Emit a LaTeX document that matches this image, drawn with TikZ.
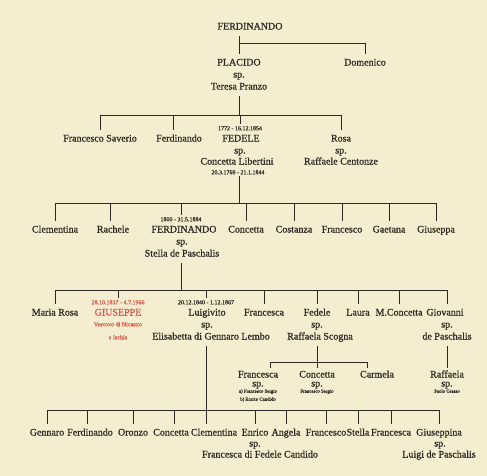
\documentclass[tikz,border=0pt]{standalone}
\usepackage{fontspec}
\setmainfont{Liberation Serif}[FakeBold=0.8]
\definecolor{bg}{RGB}{244,237,207}
\definecolor{ink}{RGB}{45,40,35}
\definecolor{redink}{RGB}{214,88,76}
\tikzset{
  person/.style={inner xsep=0pt, inner ysep=4.5pt, text height=7pt, text depth=2pt, text=ink, font=\fontsize{10}{11}\selectfont},
  small/.style={inner xsep=0pt, inner ysep=1.5pt, text height=4.5pt, text depth=0pt, text=ink, font=\fontsize{6}{7}\selectfont},
  tiny/.style={inner xsep=0pt, inner ysep=1pt, text height=3.5pt, text depth=0pt, text=ink, font=\fontsize{4.8}{5.5}\selectfont},
  red/.style={text=redink},
  link/.style={draw=ink, line width=0.9pt}
}
\begin{document}
\begin{tikzpicture}[x=1pt,y=-1pt]
\useasboundingbox (0,0) rectangle (487,476);
\fill[bg] (0,0) rectangle (487,476);

% generation 1
\node[person] (ferd1) at (250,27) {FERDINANDO};
\node[person] (placido) at (239,63) {PLACIDO};
\node[person] (placidosp) at (239,75) {sp.};
\node[person] (teresa) at (239,87) {Teresa Pranzo};
\node[person] (domenico) at (365,63) {Domenico};
\coordinate (b1) at (0,43);
\draw[link] (ferd1.south -| placido) -- (placido.north);
\draw[link] (b1 -| placido) -- (b1 -| domenico) -- (domenico.north);

% generation 2
\node[person] (fsav) at (100,139) {Francesco Saverio};
\node[person] (ferd2) at (179,139) {Ferdinando};
\node[small] (fedeled) at (240,128) {1772 - 16.12.1854};
\node[person] (fedele) at (241,139) {FEDELE};
\node[person] (fedelesp) at (240,151) {sp.};
\node[person] (concl) at (237,162) {Concetta Libertini};
\node[small] (concld) at (238,172) {20.3.1769 - 21.1.1844};
\node[person] (rosa) at (341,139) {Rosa};
\node[person] (rosasp) at (341,151) {sp.};
\node[person] (raffc) at (341,162) {Raffaele Centonze};
\coordinate (b2) at (0,115);
\draw[link] (teresa.south) -- (b2 -| teresa);
\draw[link] (b2 -| fsav) -- (b2 -| rosa);
\draw[link] (b2 -| fsav) -- (fsav.north);
\draw[link] ([xshift=-6pt]b2 -| ferd2) -- ([xshift=-6pt]ferd2.north);
\draw[link] (b2 -| fedeled) -- (fedeled.north);
\draw[link] (b2 -| rosa) -- (rosa.north);

% generation 3
\coordinate (b3) at (0,203);
\node[person] (clem3) at (55,230) {Clementina};
\node[person] (rachele) at (113,230) {Rachele};
\node[small] (ferd3d) at (181,219) {1800 - 31.5.1884};
\node[person] (ferd3) at (184,230) {FERDINANDO};
\node[person] (ferd3sp) at (182,242) {sp.};
\node[person] (stella3) at (182,254) {Stella de Paschalis};
\node[person] (conc3) at (246,230) {Concetta};
\node[person] (cost3) at (294,230) {Costanza};
\node[person] (fran3) at (342,230) {Francesco};
\node[person] (gaet3) at (389,230) {Gaetana};
\node[person] (gius3) at (436,230) {Giuseppa};
\draw[link] (concld.south -| teresa) -- (b3 -| teresa);
\draw[link] (b3 -| clem3) -- (b3 -| gius3);
\foreach \n in {clem3,conc3,cost3,fran3,gaet3,gius3}
  \draw[link] (b3 -| \n) -- (\n.north);
\draw[link] ([xshift=-3pt]b3 -| rachele) -- ([xshift=-3pt]rachele.north);
\draw[link] (b3 -| ferd3d) -- (ferd3d.north);

% generation 4
\coordinate (b4) at (0,290);
\node[person] (mrosa) at (55,313) {Maria Rosa};
\node[small,red] (giused) at (118,302) {28.10.1837 - 4.7.1966};
\node[person,red] (giuseppe) at (118,313) {GIUSEPPE};
\node[small,red] (vescovo) at (118,324) {Vescovo di Nicastro};
\node[small,red] (ischia) at (118,337) {e Ischia};
\node[small] (luigid) at (206,302) {20.12.1840 - 1.12.1867};
\node[person] (luigi) at (207,313) {Luigivito};
\node[person] (luigisp) at (207,325) {sp.};
\node[person] (elis) at (211,337) {Elisabetta di Gennaro Lembo};
\node[person] (fran4) at (264,313) {Francesca};
\node[person] (fedele4) at (317,313) {Fedele};
\node[person] (fedele4sp) at (317,325) {sp.};
\node[person] (raffs) at (320,337) {Raffaela Scogna};
\node[person] (laura) at (358,313) {Laura};
\node[person] (mconc) at (399,313) {M.Concetta};
\node[person] (giov) at (445,313) {Giovanni};
\node[person] (giovsp) at (447,325) {sp.};
\node[person] (depas) at (447,337) {de Paschalis};
\draw[link] (stella3.south -| ferd3d) -- (b4 -| ferd3d);
\draw[link] (b4 -| mrosa) -- (b4 -| depas);
\foreach \n in {mrosa,fran4,laura,mconc}
  \draw[link] (b4 -| \n) -- (\n.north);
\draw[link] (b4 -| giused) -- (giused.north);
\draw[link] (b4 -| luigid) -- (luigid.north);
\draw[link] (b4 -| fedele4) -- (fedele4.north);
\draw[link] (b4 -| depas) -- (giov.north -| depas);

% generation 5 (children of Fedele and of Giovanni)
\coordinate (b5) at (0,362);
\node[person] (fca5) at (258,375) {Francesca};
\node[person] (fca5sp) at (258,384) {sp.};
\node[tiny] (fca5a) at (258,391) {a) Francesco Sergio};
\node[tiny] (fca5b) at (258,399) {b) Enrico Candido};
\node[person] (conc5) at (317,375) {Concetta};
\node[person] (conc5sp) at (317,384) {sp.};
\node[tiny] (conc5a) at (317,391) {Francesco Sergio};
\node[person] (carm5) at (377,375) {Carmela};
\node[person] (raff5) at (447,375) {Raffaela};
\node[person] (raff5sp) at (447,384) {sp.};
\node[tiny] (raff5a) at (447,391) {Paolo Grasso};
\draw[link] (raffs.south -| fedele4) -- (b5 -| fedele4);
\draw[link] ([xshift=12pt]b5 -| fca5) -- ([xshift=-10pt]b5 -| carm5);
\draw[link] ([xshift=12pt]b5 -| fca5) -- ([xshift=12pt,yshift=-2pt]fca5.north);
\draw[link] (b5 -| fedele4) -- ([yshift=-2pt]conc5.north -| fedele4);
\draw[link] ([xshift=-10pt]b5 -| carm5) -- ([xshift=-10pt,yshift=-2pt]carm5.north);
\draw[link] (depas.south) -- ([yshift=-2pt]raff5.north);

% generation 6 (children of Luigivito)
\coordinate (b6) at (0,410);
\node[person] (genn) at (47,433) {Gennaro};
\node[person] (ferd6) at (90,433) {Ferdinando};
\node[person] (oronzo) at (133,433) {Oronzo};
\node[person] (conc6) at (171,433) {Concetta};
\node[person] (clem6) at (214,433) {Clementina};
\node[person] (enrico) at (255,433) {Enrico};
\node[person] (enricosp) at (255,444) {sp.};
\node[person] (fcafc) at (260,455) {Francesca di Fedele Candido};
\node[person] (angela) at (286,433) {Angela};
\node[person] (fran6) at (326,433) {Francesco};
\node[person] (stella6) at (358,433) {Stella};
\node[person] (fca6) at (391,433) {Francesca};
\node[person] (giusina) at (439,433) {Giuseppina};
\node[person] (giusinasp) at (440,444) {sp.};
\node[person] (luigidp) at (439,455) {Luigi de Paschalis};
\draw[link] (b6 -| genn) -- (b6 -| giusina);
\draw[link] (elis.south -| luigid) -- (clem6.north -| luigid);
\foreach \n in {genn,oronzo,enrico,angela,fran6,stella6,fca6,giusina}
  \draw[link] (b6 -| \n) -- (\n.north);
\draw[link] ([xshift=-3pt]b6 -| ferd6) -- ([xshift=-3pt]ferd6.north);
\draw[link] ([xshift=3pt]b6 -| conc6) -- ([xshift=3pt]conc6.north);
\end{tikzpicture}
\end{document}
